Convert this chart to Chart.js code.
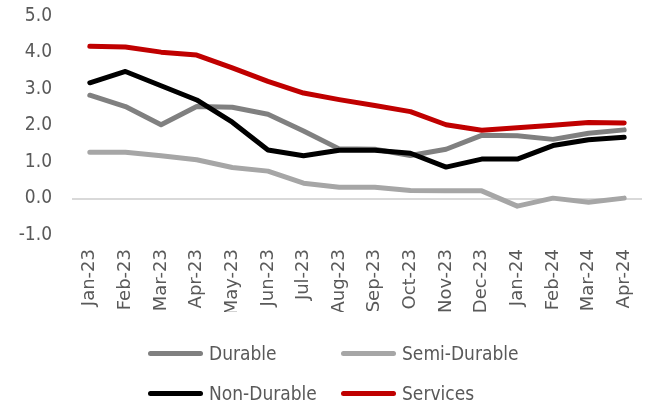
<!DOCTYPE html>
<html>
<head>
<meta charset="utf-8">
<script src="https://cdn.jsdelivr.net/npm/chart.js@4/dist/chart.umd.min.js"></script>
<style>
  html, body { margin: 0; padding: 0; background: #fff; }
  #wrap { position: relative; width: 650px; height: 406px; }
  .lg { position: absolute; display: flex; align-items: center; font-family: "DejaVu Sans Condensed", "DejaVu Sans", sans-serif; font-size: 19px; color: #595959; }
  .lg span.ln { display: inline-block; width: 55px; height: 5px; border-radius: 3px; margin-right: 6px; }
</style>
</head>
<body>
<div id="wrap">
  <canvas id="chart" width="650" height="406"></canvas>
  <div id="legend"></div>
</div>
<script>
// Data
const months = ['Jan-23', 'Feb-23', 'Mar-23', 'Apr-23', 'May-23', 'Jun-23', 'Jul-23', 'Aug-23',
                'Sep-23', 'Oct-23', 'Nov-23', 'Dec-23', 'Jan-24', 'Feb-24', 'Mar-24', 'Apr-24'];

const durable    = [2.83, 2.52, 2.02, 2.52, 2.50, 2.31, 1.85, 1.36, 1.35, 1.18, 1.35, 1.73, 1.72, 1.62, 1.79, 1.88];
const semiDurable = [1.27, 1.27, 1.17, 1.06, 0.85, 0.75, 0.42, 0.31, 0.31, 0.22, 0.21, 0.21, -0.21, 0.01, -0.10, 0.01];
const nonDurable = [3.17, 3.48, 3.09, 2.70, 2.09, 1.33, 1.17, 1.32, 1.32, 1.24, 0.86, 1.08, 1.08, 1.45, 1.61, 1.68];
const services   = [4.17, 4.15, 4.01, 3.93, 3.58, 3.21, 2.89, 2.71, 2.55, 2.38, 2.02, 1.87, 1.94, 2.01, 2.08, 2.07];

const yTicks = [-1, 0, 1, 2, 3, 4, 5];

const textColor = '#595959';
const font = "'DejaVu Sans Condensed', 'DejaVu Sans', sans-serif";

function series(label, data, color, order) {
  return {
    label: label,
    data: data,
    borderColor: color,
    backgroundColor: color,
    borderWidth: 5,
    pointRadius: 0,
    tension: 0,
    borderCapStyle: 'round',
    borderJoinStyle: 'round',
    order: order
  };
}

const datasets = [
  series('Durable', durable, '#808080', 2),
  series('Semi-Durable', semiDurable, '#A6A6A6', 3),
  series('Non-Durable', nonDurable, '#000000', 1),
  series('Services', services, '#C00000', 0)
];

const chart = new Chart(document.getElementById('chart'), {
  type: 'line',
  data: { labels: months, datasets: datasets },
  options: {
    responsive: false,
    animation: false,
    layout: { padding: { left: 0, right: 8, top: 16, bottom: 94 } },
    plugins: { legend: { display: false }, tooltip: { enabled: false } },
    scales: {
      x: {
        offset: true,
        grid: { display: false, drawTicks: false },
        border: { display: false },
        ticks: {
          color: textColor,
          font: { family: "'DejaVu Sans', sans-serif", size: 18 },
          minRotation: 90,
          maxRotation: 90,
          autoSkip: false,
          padding: 14
        },
        afterFit: s => { s.height = 77; s.paddingLeft = 0; s.paddingRight = 0; }
      },
      y: {
        min: -1,
        max: 5,
        afterBuildTicks: s => { s.ticks = yTicks.map(v => ({ value: v })); },
        grid: {
          drawTicks: false,
          lineWidth: 2,
          color: c => (c.tick && c.tick.value === 0 ? '#D9D9D9' : 'rgba(0,0,0,0)')
        },
        border: { display: false },
        ticks: {
          color: textColor,
          font: { family: font, size: 19 },
          padding: 20,
          callback: v => Number(v).toFixed(1)
        },
        afterFit: s => { s.width = 72; s.paddingTop = 0; s.paddingBottom = 0; }
      }
    }
  }
});

// Legend (two fixed columns like the original)
const legendPos = [
  { x: 148, y: 353 },  // Durable
  { x: 341, y: 353 },  // Semi-Durable
  { x: 148, y: 393 },  // Non-Durable
  { x: 341, y: 393 }   // Services
];
const legend = document.getElementById('legend');
chart.data.datasets.forEach((ds, i) => {
  const el = document.createElement('div');
  el.className = 'lg';
  el.style.left = legendPos[i].x + 'px';
  el.style.top = (legendPos[i].y - 12) + 'px';
  el.style.height = '24px';
  el.innerHTML = `<span class="ln" style="background:${ds.borderColor}"></span>${ds.label}`;
  legend.appendChild(el);
});
</script>
</body>
</html>
